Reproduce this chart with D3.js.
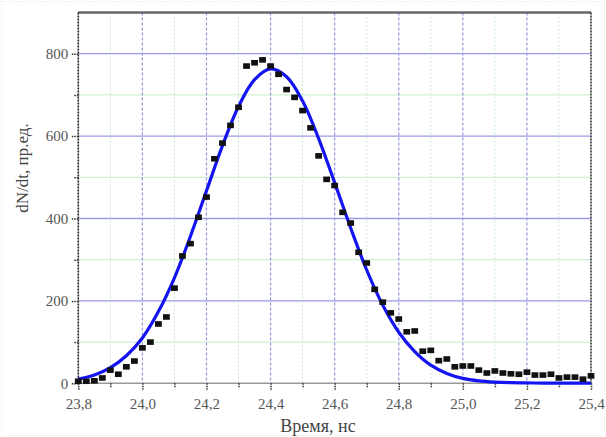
<!DOCTYPE html>
<html>
<head>
<meta charset="utf-8">
<script src="https://cdn.jsdelivr.net/npm/d3@7"></script>
<style>
  html, body { margin: 0; padding: 0; background: #fff; }
  svg { display: block; }
</style>
</head>
<body>
<svg id="chart" width="606" height="437"></svg>
<script>
// ---- data ----
const pointTimes = [
  23.800, 23.825, 23.850, 23.875, 23.900, 23.925, 23.950, 23.975,
  24.000, 24.025, 24.050, 24.075, 24.100, 24.125, 24.150, 24.175,
  24.200, 24.225, 24.250, 24.275, 24.300, 24.325, 24.350, 24.375,
  24.400, 24.425, 24.450, 24.475, 24.500, 24.525, 24.550, 24.575,
  24.600, 24.625, 24.650, 24.675, 24.700, 24.725, 24.750, 24.775,
  24.800, 24.825, 24.850, 24.875, 24.900, 24.925, 24.950, 24.975,
  25.000, 25.025, 25.050, 25.075, 25.100, 25.125, 25.150, 25.175,
  25.200, 25.225, 25.250, 25.275, 25.300, 25.325, 25.350, 25.375,
  25.400
];
const pointCounts = [
  5, 5, 6, 13, 32, 22, 40, 54,
  86, 100, 144, 161, 231, 309, 339, 403,
  452, 545, 583, 626, 670, 770, 778, 785,
  770, 750, 713, 694, 662, 620, 552, 495,
  480, 415, 389, 318, 292, 228, 197, 171,
  156, 125, 127, 78, 80, 55, 59, 40,
  42, 42, 32, 25, 30, 25, 23, 22,
  27, 20, 20, 22, 13, 15, 15, 10,
  18
];
const fitTimes = [
  23.80, 23.85, 23.90, 23.95, 24.00, 24.05, 24.10, 24.15, 24.20, 24.25,
  24.30, 24.35, 24.40, 24.45, 24.50, 24.55, 24.60, 24.65, 24.70, 24.75,
  24.80, 24.85, 24.90, 24.95, 25.00, 25.05, 25.10, 25.15, 25.20, 25.25,
  25.30, 25.35, 25.40
];
const fitValues = [
  10, 20, 38, 67, 110, 174, 256, 357, 467, 577,
  672, 737, 763, 744, 685, 594, 487, 377, 275, 190,
  124, 77, 44, 24, 12, 6, 3, 1.5, 1, 0.5,
  0.5, 0.5, 0.5
];
const xMajorTicks = [23.8, 24.0, 24.2, 24.4, 24.6, 24.8, 25.0, 25.2, 25.4];
const xTickLabels = ["23,8", "24,0", "24,2", "24,4", "24,6", "24,8", "25,0", "25,2", "25,4"];
const xMinorTicks = [23.9, 24.1, 24.3, 24.5, 24.7, 24.9, 25.1, 25.3];
const yMajorTicks = [0, 200, 400, 600, 800];
const yTickLabels = ["0", "200", "400", "600", "800"];
const yMinorTicks = [100, 300, 500, 700];
const xTitle = "Время, нс";
const yTitle = "dN/dt, пр.ед.";

// ---- layout ----
const L = 78.3, R = 591, T = 12.5, B = 383.3;
const x = d3.scaleLinear().domain([23.8, 25.4]).range([L, R]);
const y = d3.scaleLinear().domain([0, 900]).range([B, T]);

const svg = d3.select("#chart");
const serif = "'Liberation Serif', 'DejaVu Serif', serif";

// faint outer border
svg.append("rect").attr("x", 1.5).attr("y", 1.5).attr("width", 603).attr("height", 434)
  .attr("fill", "none").attr("stroke", "#e4e4e4").attr("stroke-dasharray", "1,2");

// minor grid (green dotted)
const grid = svg.append("g");
grid.selectAll(".vmin").data(xMinorTicks).join("line")
  .attr("x1", d => x(d)).attr("x2", d => x(d)).attr("y1", T).attr("y2", B)
  .attr("stroke", "#c4e8c4").attr("stroke-width", 1).attr("stroke-dasharray", "2,2");
grid.selectAll(".hmin").data(yMinorTicks).join("line")
  .attr("x1", L).attr("x2", R).attr("y1", d => y(d)).attr("y2", d => y(d))
  .attr("stroke", "#c8eac8").attr("stroke-width", 1);

// major grid (blue)
grid.selectAll(".vmaj").data(xMajorTicks.slice(1, -1)).join("line")
  .attr("x1", d => x(d)).attr("x2", d => x(d)).attr("y1", T).attr("y2", B)
  .attr("stroke", "#9595e0").attr("stroke-width", 1.2).attr("stroke-dasharray", "3,2");
grid.selectAll(".hmaj").data(yMajorTicks.slice(1)).join("line")
  .attr("x1", L).attr("x2", R).attr("y1", d => y(d)).attr("y2", d => y(d))
  .attr("stroke", "#9a9ae8").attr("stroke-width", 1.3);

// frame
svg.append("line").attr("x1", L).attr("x2", R).attr("y1", T).attr("y2", T)
  .attr("stroke", "#666").attr("stroke-width", 2.5);
svg.append("line").attr("x1", L).attr("x2", R).attr("y1", B).attr("y2", B)
  .attr("stroke", "#9a9a9a").attr("stroke-width", 1.6);
svg.append("line").attr("x1", L).attr("x2", L).attr("y1", T).attr("y2", B)
  .attr("stroke", "#222").attr("stroke-width", 1.6).attr("stroke-dasharray", "2,1");
svg.append("line").attr("x1", R).attr("x2", R).attr("y1", T).attr("y2", B)
  .attr("stroke", "#333").attr("stroke-width", 1.6).attr("stroke-dasharray", "2,1");

// axes via d3
const xAxis = svg.append("g").attr("transform", `translate(0,${B})`)
  .call(d3.axisBottom(x).tickValues(xMajorTicks).tickSize(7).tickPadding(8)
    .tickFormat((d, i) => xTickLabels[i]));
const xAxisMinor = svg.append("g").attr("transform", `translate(0,${B})`)
  .call(d3.axisBottom(x).tickValues(xMinorTicks).tickSize(4).tickFormat(""));
const yAxis = svg.append("g").attr("transform", `translate(${L},0)`)
  .call(d3.axisLeft(y).tickValues(yMajorTicks).tickSize(7).tickPadding(3)
    .tickFormat((d, i) => yTickLabels[i]));
const yAxisMinor = svg.append("g").attr("transform", `translate(${L},0)`)
  .call(d3.axisLeft(y).tickValues(yMinorTicks).tickSize(4).tickFormat(""));

[xAxis, xAxisMinor, yAxis, yAxisMinor].forEach(g => {
  g.select(".domain").remove();
  g.selectAll(".tick line").attr("stroke", "#333").attr("stroke-width", 1.5)
    .attr("stroke-dasharray", "1.5,1");
  g.selectAll(".tick text").attr("font-family", serif).attr("font-size", 15)
    .attr("fill", "#555");
});

// fit curve
const line = d3.line().x((d, i) => x(fitTimes[i])).y(d => y(d)).curve(d3.curveCatmullRom);
svg.append("path").datum(fitValues).attr("d", line)
  .attr("fill", "none").attr("stroke", "#1414f0").attr("stroke-width", 3.2)
  .attr("stroke-linejoin", "round");

// data points
svg.append("g").selectAll("rect").data(pointCounts).join("rect")
  .attr("x", (d, i) => x(pointTimes[i]) - 3.4)
  .attr("y", d => y(d) - 2.8)
  .attr("width", 6.8).attr("height", 5.6)
  .attr("fill", "#111");

// titles
svg.append("text").attr("x", 318).attr("y", 432)
  .attr("text-anchor", "middle").attr("font-family", serif).attr("font-size", 18)
  .attr("fill", "#444").text(xTitle);
svg.append("text").attr("transform", "translate(28,168) rotate(-90)")
  .attr("text-anchor", "middle").attr("font-family", serif).attr("font-size", 17)
  .attr("fill", "#444").text(yTitle);
</script>
</body>
</html>
